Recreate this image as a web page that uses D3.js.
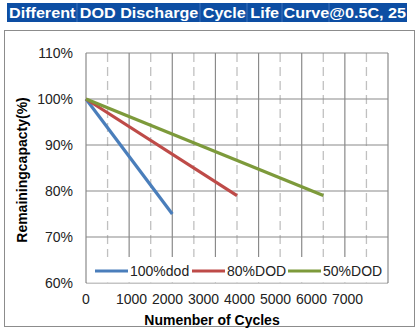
<html>
<script src="https://cdn.jsdelivr.net/npm/d3@7"></script>
<style>
  body { margin: 0; background: white; }
  text { font-family: "Liberation Sans", Arial, sans-serif; }
</style>
<body>
<svg id="chart" width="420" height="336"></svg>
<script>
// cycle life data, read per DOD level
const cycleTicks = [0, 1000, 2000, 3000, 4000, 5000, 6000, 7000];
const capTicks = [60, 70, 80, 90, 100, 110];
const seriesNames = ["100%dod", "80%DOD", "50%DOD"];
const cycles100 = [0, 2000];
const cap100 = [100, 75];
const cycles80 = [0, 3500];
const cap80 = [100, 79];
const cycles50 = [0, 5500];
const cap50 = [100, 79];
const titleText = "Different DOD Discharge Cycle Life Curve@0.5C, 25";

const colors = ["#4a7ebb", "#be4b48", "#7d9a3b"];
const series = [
  cycles100.map((c, i) => ({c: c, v: cap100[i]})),
  cycles80.map((c, i) => ({c: c, v: cap80[i]})),
  cycles50.map((c, i) => ({c: c, v: cap50[i]}))
];

const svg = d3.select("#chart");
const plotL = 86, plotR = 388, plotT = 53, plotB = 283;

const xs = d3.scaleLinear().domain([0, 7000]).range([plotL, plotR]);
const ys = d3.scaleLinear().domain([60, 110]).range([plotB, plotT]);
// the cycle labels sit packed together, narrower than the grid
const xl = d3.scaleLinear().domain([1000, 7000]).range([131, 347]);

// title bar
svg.append("rect").attr("x", 7).attr("y", 3).attr("width", 400).attr("height", 19)
  .attr("fill", "#0d4ea3");
[77, 200, 247, 282, 329].forEach(function(xp) {
  svg.append("line").attr("x1", xp).attr("x2", xp).attr("y1", 3).attr("y2", 22)
    .attr("stroke", "#3f73bb").attr("stroke-width", 1);
});
svg.append("text").attr("x", 9).attr("y", 18)
  .attr("font-size", "15px").attr("font-weight", "bold").attr("fill", "white")
  .attr("textLength", 397).attr("lengthAdjust", "spacingAndGlyphs")
  .text(titleText);

// outer frame
svg.append("rect").attr("x", 4.5).attr("y", 30.5).attr("width", 410).attr("height", 296)
  .attr("fill", "none").attr("stroke", "#8c8c8c");

// minor dashed gridlines every 500 cycles
const minor = d3.range(500, 7000, 1000);
svg.append("g").selectAll("line").data(minor).enter().append("line")
  .attr("x1", d => xs(d)).attr("x2", d => xs(d))
  .attr("y1", plotT).attr("y2", plotB)
  .attr("stroke", "#c0c0c0").attr("stroke-width", 1.3)
  .attr("stroke-dasharray", "9,5");

// major gridlines
svg.append("g").selectAll("line").data(cycleTicks).enter().append("line")
  .attr("x1", d => xs(d)).attr("x2", d => xs(d))
  .attr("y1", plotT).attr("y2", plotB)
  .attr("stroke", "#8a8a8a").attr("stroke-width", 1.2);
svg.append("g").selectAll("line").data(capTicks).enter().append("line")
  .attr("x1", plotL).attr("x2", plotR)
  .attr("y1", d => ys(d)).attr("y2", d => ys(d))
  .attr("stroke", "#8a8a8a").attr("stroke-width", 1.2);

// axes labels
const yAxis = d3.axisLeft(ys).tickValues(capTicks).tickSize(0).tickPadding(13)
  .tickFormat(d => d + "%");
const gy = svg.append("g").attr("transform", "translate(" + plotL + ",0)").call(yAxis);
gy.select(".domain").remove();
gy.selectAll("text").attr("font-size", "14px").attr("fill", "#222")
  .attr("font-family", "Liberation Sans, Arial, sans-serif");

const xAxis = d3.axisBottom(xl).tickValues(cycleTicks.slice(1)).tickSize(0).tickPadding(11)
  .tickFormat(d3.format("d"));
const gx = svg.append("g").attr("transform", "translate(0," + plotB + ")").call(xAxis);
gx.select(".domain").remove();
gx.append("text").attr("x", xs(0)).attr("y", 11).attr("dy", "0.71em")
  .attr("text-anchor", "middle").text(cycleTicks[0]);
gx.selectAll("text").attr("font-size", "14px").attr("fill", "#222")
  .attr("font-family", "Liberation Sans, Arial, sans-serif");

// axis titles
svg.append("text").attr("x", 212).attr("y", 325)
  .attr("text-anchor", "middle").attr("font-size", "14px").attr("font-weight", "bold")
  .text("Numenber of Cycles");
svg.append("text").attr("transform", "translate(27,170) rotate(-90)")
  .attr("text-anchor", "middle").attr("font-size", "14px").attr("font-weight", "bold")
  .text("Remainingcapacty(%)");

// series lines
const line = d3.line().x(d => xs(d.c)).y(d => ys(d.v));
svg.append("g").selectAll("path").data(series).enter().append("path")
  .attr("d", line).attr("fill", "none")
  .attr("stroke", (d, i) => colors[i]).attr("stroke-width", 3.2);

// legend
svg.append("rect").attr("x", plotL + 1).attr("y", 257).attr("width", plotR - plotL - 2).attr("height", 25.5)
  .attr("fill", "white");
const legX = [95, 192, 288];
seriesNames.forEach(function(name, i) {
  svg.append("line").attr("x1", legX[i]).attr("x2", legX[i] + 33)
    .attr("y1", 271).attr("y2", 271)
    .attr("stroke", colors[i]).attr("stroke-width", 3.2);
  svg.append("text").attr("x", legX[i] + 35).attr("y", 276)
    .attr("font-size", "14px").attr("fill", "#222").text(name);
});
</script>
</body>
</html>
